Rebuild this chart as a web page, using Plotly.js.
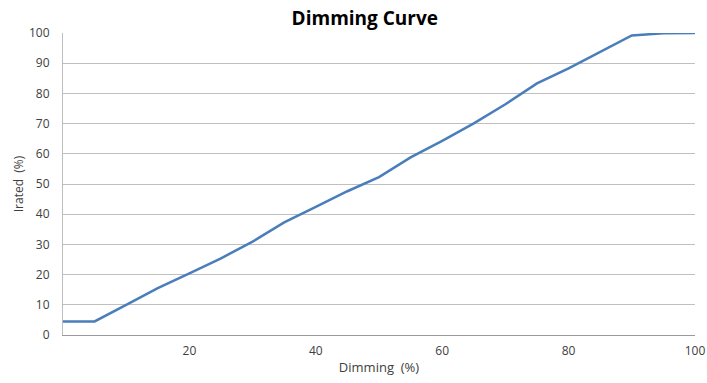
<!DOCTYPE html>
<html>
<head>
<meta charset="utf-8">
<script src="https://cdn.plot.ly/plotly-3.0.1.min.js"></script>
<style>html,body{margin:0;padding:0;background:#fff;}#chart{width:707px;height:383px;}</style>
</head>
<body>
<div id="chart"></div>
<script>
const dimming = [0, 5, 10, 15, 20, 25, 30, 35, 40, 45, 50, 55, 60, 65, 70, 75, 80, 85, 90, 95, 100];
const irated  = [4.5, 4.5, 10, 15.5, 20.4, 25.4, 30.9, 37.3, 42.4, 47.6, 52.3, 58.8, 64.3, 70.1, 76.4, 83.3, 88.3, 93.8, 99.2, 99.9, 100];
const xTicks = [20, 40, 60, 80, 100];
const yTicks = [0, 10, 20, 30, 40, 50, 60, 70, 80, 90, 100];

Plotly.newPlot('chart', [{
  x: dimming, y: irated, type: 'scatter', mode: 'lines',
  line: {color: '#4a7ebb', width: 2.5},
  hoverinfo: 'none'
}], {
  width: 707, height: 383,
  margin: {l: 63, r: 12, t: 33, b: 48},
  paper_bgcolor: '#fff', plot_bgcolor: '#fff',
  showlegend: false,
  font: {family: 'Open Sans, sans-serif', color: '#404040', size: 11},
  title: {text: '<b>Dimming Curve</b>', x: 0.516, xanchor: 'center', y: 0.952, yanchor: 'middle',
          font: {family: 'Open Sans, sans-serif', size: 19, color: '#000'}},
  xaxis: {range: [0, 100], tickvals: xTicks, ticktext: xTicks.map(String),
          showgrid: false, zeroline: false, showline: true, linecolor: '#9a9a9a', linewidth: 1,
          ticks: '', ticklabelstandoff: 5, tickfont: {size: 12, color: '#404040'},
          title: {text: 'Dimming  (%)', font: {size: 13, color: '#404040'}, standoff: 4}},
  yaxis: {range: [0, 100], tickvals: yTicks, ticktext: yTicks.map(String),
          showgrid: true, gridcolor: '#c0c0c0', gridwidth: 1, zeroline: false,
          showline: true, linecolor: '#bdbdbd', linewidth: 1,
          ticks: '', ticklabelstandoff: 10, tickfont: {size: 12, color: '#404040'},
          title: {text: 'Irated  (%)', font: {size: 12, color: '#404040'}, standoff: 2}}
}, {displayModeBar: false, staticPlot: true});
</script>
</body>
</html>
